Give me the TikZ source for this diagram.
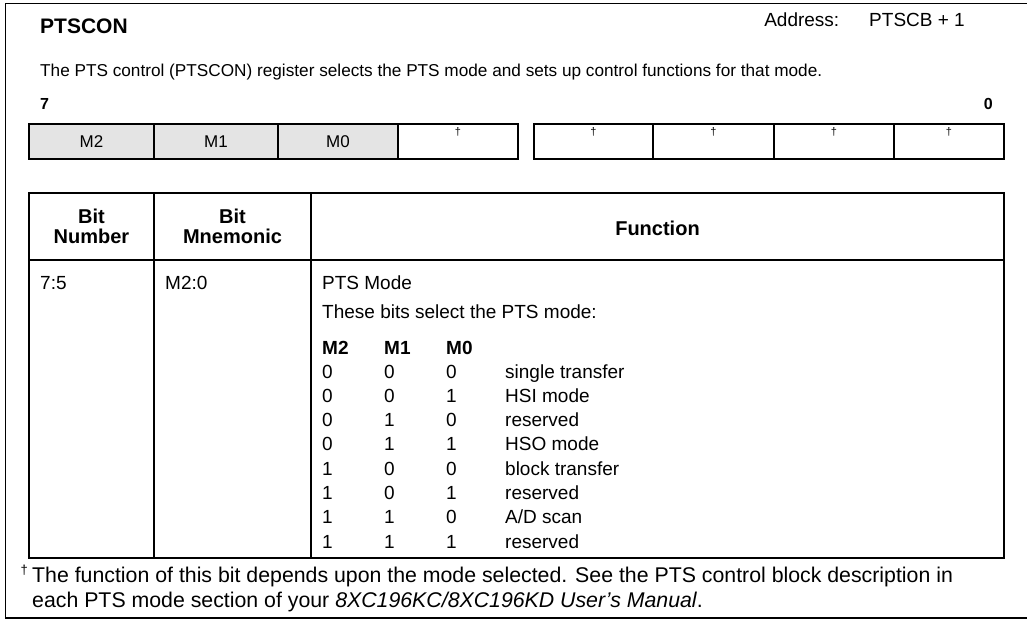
\documentclass[tikz,border=0pt]{standalone}
\usepackage{fontspec}
\setmainfont{Liberation Sans}
\definecolor{cellgray}{HTML}{E4E4E4}
\begin{document}
\begin{tikzpicture}[x=1pt,y=-1pt,
  frame/.style={line width=1.6pt},
  box/.style={draw,line width=2pt},
  tx/.style={inner sep=0pt,font=\fontsize{17.2}{20}\selectfont},
  addrtx/.style={inner sep=0pt,font=\fontsize{19}{22}\selectfont},
  title/.style={inner sep=0pt,font=\fontsize{21}{24}\selectfont\bfseries},
  bitno/.style={inner sep=0pt,font=\fontsize{16}{19}\selectfont\bfseries},
  regtx/.style={inner sep=0pt,font=\fontsize{17}{19}\selectfont},
  dag/.style={inner sep=0pt,font=\fontsize{11}{12}\selectfont},
  hdr/.style={inner sep=0pt,align=center,font=\fontsize{20}{20}\selectfont\bfseries},
  cell/.style={inner sep=0pt,anchor=base west,font=\fontsize{19}{22}\selectfont},
  cellb/.style={cell,font=\fontsize{19}{22}\selectfont\bfseries},
  foot/.style={inner sep=0pt,anchor=base west,font=\fontsize{21.3}{24}\selectfont}]
\useasboundingbox (0,0) rectangle (1027,620);
% outer frame
\draw[frame] (1027,3.5) -- (5.5,3.5) -- (5.5,618) -- (1027,618);
% heading
\node[title,anchor=base west] (ttl) at (40,34) {PTSCON};
\node[addrtx,anchor=base east] (addr) at (965,27) {Address:\hspace{30pt}PTSCB + 1};
\node[tx,anchor=base west] (desc) at (40,77) {The PTS control (PTSCON) register selects the PTS mode and sets up control functions for that mode.};
\node[bitno,anchor=base west] (b7) at (40,110) {7};
\node[bitno,anchor=base east] (b0) at (993,110) {0};
% register
\fill[cellgray] (29,124) rectangle (398,159);
\draw[box] (29,124) rectangle (518,159);
\draw[box] (154,124) -- (154,159);
\draw[box] (278,124) -- (278,159);
\draw[box] (398,124) -- (398,159);
\draw[box] (534,124) rectangle (1004,159);
\draw[box] (653,124) -- (653,159);
\draw[box] (774,124) -- (774,159);
\draw[box] (894,124) -- (894,159);
\node[regtx] (r7) at (91.5,142) {M2};
\node[regtx] (r6) at (216,142) {M1};
\node[regtx] (r5) at (338,142) {M0};
\node[dag] (r4) at (458,132) {†};
\node[dag] (r3) at (593.5,132) {†};
\node[dag] (r2) at (713.5,132) {†};
\node[dag] (r1) at (834,132) {†};
\node[dag] (r0) at (949,132) {†};
% table
\draw[box] (29,193) rectangle (1004,558);
\draw[box] (29,260) -- (1004,260);
\draw[box] (154,193) -- (154,558);
\draw[box] (311,193) -- (311,558);
\node[hdr] (h1) at (91.5,226) {Bit\\Number};
\node[hdr] (h2) at (232.5,226) {Bit\\Mnemonic};
\node[hdr] (h3) at (657.5,228) {Function};
\node[cell] (c1) at (40,289) {7:5};
\node[cell] (c2) at (165,289) {M2:0};
\node[cell] (c3) at (322,289) {PTS Mode};
\node[cell] (c4) at (322,318) {These bits select the PTS mode:};
\node[cellb] (k2) at (322,354) {M2};
\node[cellb] (k1) at (384,354) {M1};
\node[cellb] (k0) at (446,354) {M0};
\foreach \a/\b/\c/\d [count=\i from 0] in {0/0/0/{single transfer},0/0/1/{HSI mode},0/1/0/{reserved},0/1/1/{HSO mode},1/0/0/{block transfer},1/0/1/{reserved},1/1/0/{A/D scan},1/1/1/{reserved}}{
  \node[cell] (m2r\i) at (322,378+24.3*\i) {\a};
  \node[cell] (m1r\i) at (384,378+24.3*\i) {\b};
  \node[cell] (m0r\i) at (446,378+24.3*\i) {\c};
  \node[cell] (fr\i) at (505,378+24.3*\i) {\d};
}
% footnote
\node[inner sep=0pt,anchor=base east,font=\fontsize{13}{13}\selectfont] (fd) at (28,574) {†};
\node[foot] (f1) at (32,582) {The function of this bit depends upon the mode selected. See the PTS control block description in};
\node[foot] (f2) at (32,607) {each PTS mode section of your \textit{8XC196KC/8XC196KD User’s Manual}.};
\end{tikzpicture}
\end{document}
